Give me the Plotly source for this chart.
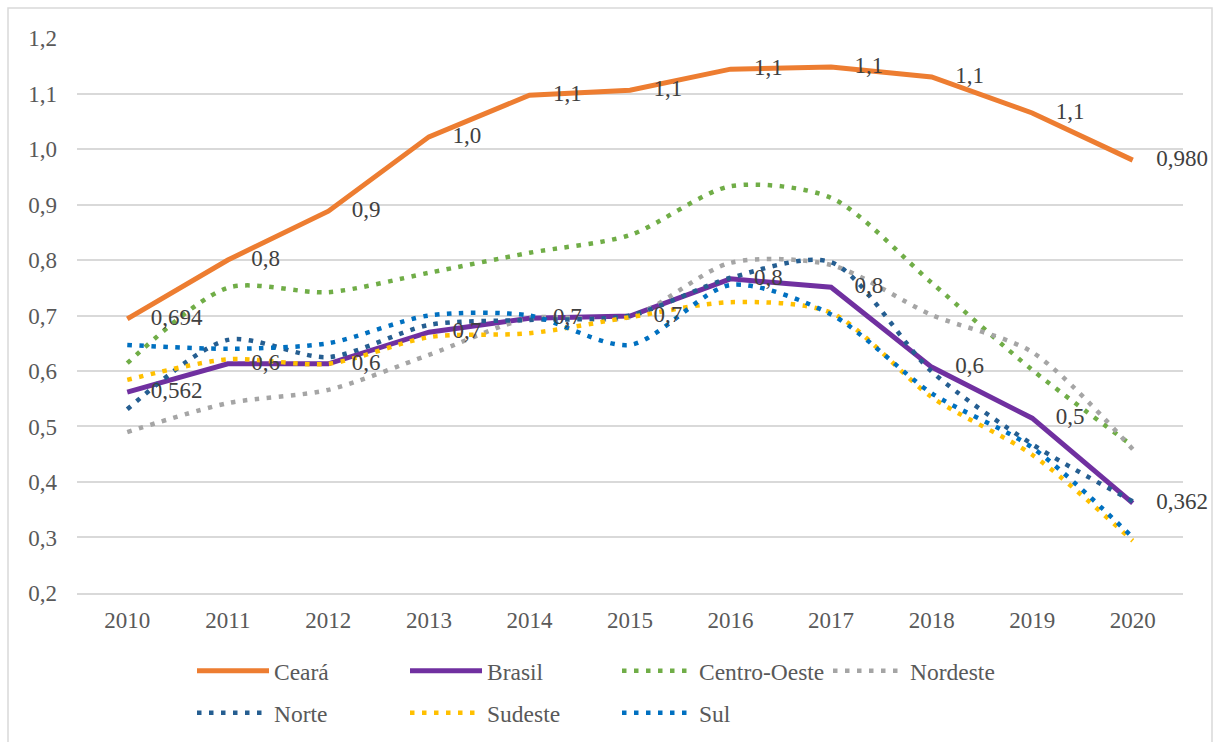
import plotly.graph_objects as go

years = ["2010", "2011", "2012", "2013", "2014", "2015", "2016", "2017", "2018", "2019", "2020"]

ceara = [0.694, 0.800, 0.888, 1.022, 1.097, 1.106, 1.144, 1.148, 1.130, 1.065, 0.980]
brasil = [0.562, 0.613, 0.613, 0.670, 0.695, 0.699, 0.766, 0.751, 0.607, 0.515, 0.362]
centro_oeste = [0.614, 0.750, 0.742, 0.777, 0.813, 0.845, 0.933, 0.912, 0.759, 0.602, 0.465]
nordeste = [0.490, 0.542, 0.566, 0.629, 0.695, 0.697, 0.795, 0.791, 0.701, 0.634, 0.459]
norte = [0.531, 0.656, 0.625, 0.683, 0.692, 0.700, 0.768, 0.796, 0.599, 0.468, 0.365]
sudeste = [0.584, 0.621, 0.613, 0.661, 0.668, 0.697, 0.724, 0.705, 0.553, 0.449, 0.294]
sul = [0.647, 0.640, 0.650, 0.700, 0.700, 0.647, 0.755, 0.702, 0.560, 0.462, 0.300]

ceara_labels = ["0,694", "0,8", "0,9", "1,0", "1,1", "1,1", "1,1", "1,1", "1,1", "1,1", "0,980"]
brasil_labels = ["0,562", "0,6", "0,6", "0,7", "0,7", "0,7", "0,8", "0,8", "0,6", "0,5", "0,362"]

FONT = "Liberation Serif, 'Times New Roman', Tinos, 'DejaVu Serif', serif"

# plot area geometry (px) for paper conversions
L, R, T, B = 77, 32, 38, 149
W, H = 1215, 742
PW, PH = W - L - R, H - T - B
ITEMW = 72


def px_x(px):
    return (px - L) / PW


def px_y(py):
    return (H - B - py) / PH


fig = go.Figure()

# name, values, colour, dotted?, legend id, legend symbol start (px), row centre (px)
series = [
    ("Ceará", ceara, "#ED7D31", False, "legend", 197, 671),
    ("Brasil", brasil, "#7030A0", False, "legend2", 410, 671),
    ("Centro-Oeste", centro_oeste, "#70AD47", True, "legend3", 622, 671),
    ("Nordeste", nordeste, "#A5A5A5", True, "legend4", 833, 671),
    ("Norte", norte, "#255E91", True, "legend5", 197, 713),
    ("Sudeste", sudeste, "#FFC000", True, "legend6", 410, 713),
    ("Sul", sul, "#0070C0", True, "legend7", 622, 713),
]

legends = {}
for name, vals, col, is_dot, lg, lx, ly in series:
    if is_dot:
        line = dict(color=col, width=4.5, dash="4.5px,7.5px", shape="spline", smoothing=0.8)
    else:
        line = dict(color=col, width=5)
    fig.add_trace(go.Scatter(x=years, y=vals, name=name, mode="lines", line=line, legend=lg))
    legends[lg] = dict(
        x=px_x(lx - 5), y=px_y(ly), xanchor="left", yanchor="middle",
        orientation="v", itemwidth=ITEMW,
        font=dict(family=FONT, size=23.5, color="#595959"),
        bgcolor="rgba(0,0,0,0)", borderwidth=0,
    )

for vals, labels in [(ceara, ceara_labels), (brasil, brasil_labels)]:
    fig.add_trace(go.Scatter(
        x=years, y=vals, mode="markers+text", text=labels,
        textposition="middle right", cliponaxis=False,
        textfont=dict(family=FONT, size=23, color="#404040"),
        marker=dict(size=36, opacity=0),
        showlegend=False, hoverinfo="skip",
    ))

fig.update_layout(
    width=W, height=H,
    margin=dict(l=L, r=R, t=T, b=B, autoexpand=False),
    paper_bgcolor="white", plot_bgcolor="white",
    separators=", ",
    font=dict(family=FONT, size=23, color="#595959"),
    xaxis=dict(
        type="category", range=[-0.5, 10.5], showgrid=False, showline=True,
        linecolor="#D9D9D9", linewidth=1.5, ticks="", ticklabelstandoff=6,
        zeroline=False, tickfont=dict(family=FONT, size=23, color="#595959"),
    ),
    yaxis=dict(
        range=[0.1999, 1.2001], tick0=0.2, dtick=0.1, tickformat=".1f",
        showgrid=True, gridcolor="#D9D9D9", gridwidth=1.5, showline=False,
        zeroline=False, ticks="", ticklabelstandoff=19,
        tickfont=dict(family=FONT, size=23, color="#595959"),
    ),
    shapes=[dict(
        type="rect", xref="paper", yref="paper",
        x0=px_x(8), x1=px_x(1212), y0=px_y(748), y1=px_y(8),
        line=dict(color="#D9D9D9", width=1.5), fillcolor="rgba(0,0,0,0)", layer="below",
    )],
    **legends,
)

fig.write_html(
    "out.html",
    config={"displayModeBar": False},
    post_script="document.body.style.margin='0px';",
)
